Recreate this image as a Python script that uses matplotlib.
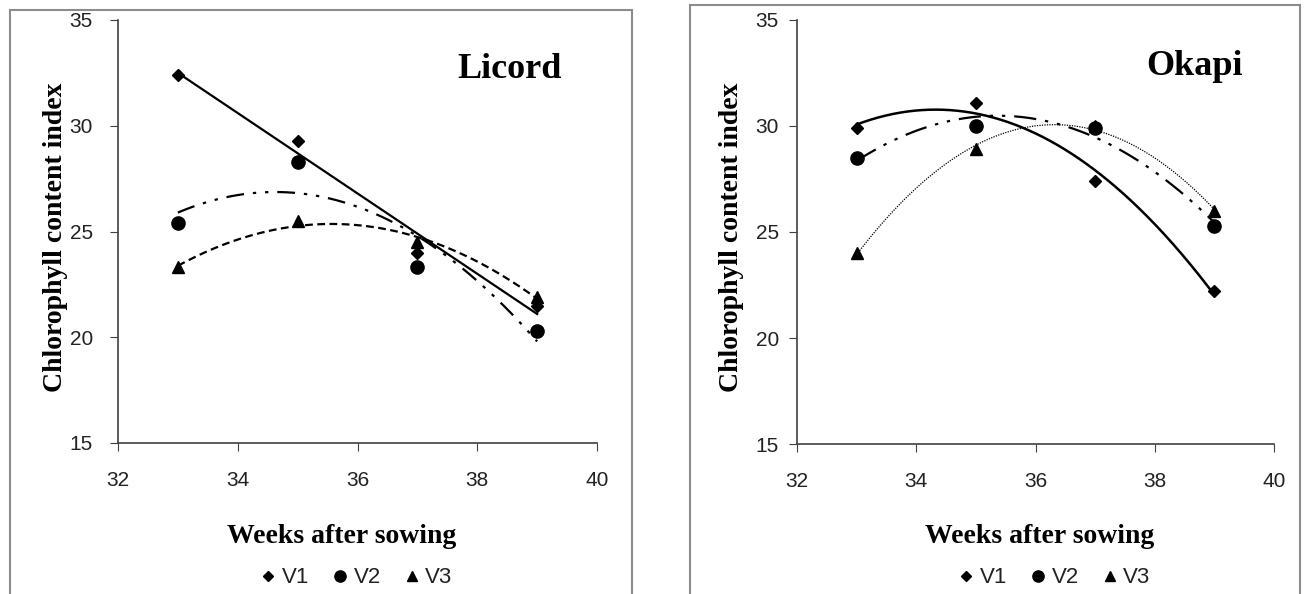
import numpy as np
import matplotlib
matplotlib.use('Agg')
import matplotlib.pyplot as plt
from matplotlib.patches import Rectangle
from matplotlib.lines import Line2D

# Data
weeks = [33, 35, 37, 39]
licord_v1 = [32.4, 29.3, 24.0, 21.5]
licord_v2 = [25.4, 28.3, 23.3, 20.3]
licord_v3 = [23.3, 25.5, 24.5, 21.9]
okapi_v1 = [29.9, 31.1, 27.4, 22.2]
okapi_v2 = [28.5, 30.0, 29.9, 25.3]
okapi_v3 = [24.0, 28.9, 30.0, 26.0]
series_names = ['V1', 'V2', 'V3']

serif = 'Liberation Serif'
sans = 'Liberation Sans'
plt.rcParams['font.family'] = serif

fig = plt.figure(figsize=(13.09, 5.94), dpi=100)

# gray frames around each chart
fig.patches.append(Rectangle((10/1309, -0.02), 622/1309, 1 - 10/594 + 0.02,
                             transform=fig.transFigure, fill=False,
                             edgecolor='#8c8c8c', lw=1.5))
fig.patches.append(Rectangle((690/1309, -0.02), 610/1309, 1 - 5/594 + 0.02,
                             transform=fig.transFigure, fill=False,
                             edgecolor='#8c8c8c', lw=1.5))

markers = ['D', 'o', '^']
msizes = [6.5, 9.5, 8]


def trend(ax, y, deg, style):
    xs = np.linspace(weeks[0], weeks[-1], 200)
    c = np.polyfit(weeks, y, deg)
    ax.plot(xs, np.polyval(c, xs), color='black', zorder=2, **style)


def panel(rect, title, title_xy, v1, v2, v3, styles, degs, ylab_x, xlab_x,
          ypad):
    ax = fig.add_axes(rect)
    for y, deg, st in zip([v1, v2, v3], degs, styles):
        trend(ax, y, deg, st)
    for y, m, s in zip([v1, v2, v3], markers, msizes):
        ax.plot(weeks, y, linestyle='none', marker=m, markersize=s,
                color='black', zorder=3, clip_on=False)
    ax.set_xlim(32, 40)
    ax.set_ylim(15, 35)
    ax.set_xticks([32, 34, 36, 38, 40])
    ax.set_yticks([15, 20, 25, 30, 35])
    for s in ['top', 'right']:
        ax.spines[s].set_visible(False)
    for s in ['left', 'bottom']:
        ax.spines[s].set_color('#404040')
        ax.spines[s].set_linewidth(1.2)
    ax.tick_params(axis='x', direction='out', length=6, pad=14,
                   labelsize=15, color='#404040', labelfontfamily=sans,
                   labelcolor='#222222')
    ax.tick_params(axis='y', direction='out', length=6, pad=ypad,
                   labelsize=15, color='#404040', labelfontfamily=sans,
                   labelcolor='#222222')
    ax.text(title_xy[0], title_xy[1], title, transform=ax.transAxes,
            ha='center', va='center', fontsize=26, fontweight='bold')
    fig.text(ylab_x, 1 - 237/594, 'Chlorophyll content index', rotation=90,
             ha='center', va='center', fontsize=20, fontweight='bold')
    fig.text(xlab_x, 0.096, 'Weeks after sowing', ha='center', va='center',
             fontsize=20, fontweight='bold')
    handles = [Line2D([], [], linestyle='none', marker=m, markersize=s * 0.85,
                      color='black') for m, s in zip(markers, msizes)]
    fig.legend(handles, series_names, loc='center',
               bbox_to_anchor=(xlab_x + 14/1309, 0.027), ncol=3, frameon=False,
               prop={'family': sans, 'size': 16}, handletextpad=0.2,
               columnspacing=1.0, handlelength=0.8,
               labelcolor='#222222')
    return ax


licord_styles = [
    dict(linestyle='-', lw=1.6),
    dict(linestyle=(0, (8, 4, 1.5, 4, 1.5, 4)), lw=1.6),
    dict(linestyle=(0, (3.5, 2)), lw=1.6),
]
okapi_styles = [
    dict(linestyle='-', lw=1.8),
    dict(linestyle=(0, (10, 4, 1.5, 4, 1.5, 4)), lw=1.6),
    dict(linestyle=(0, (1, 1)), lw=0.9),
]

panel([118/1309, 1 - 443/594, 479/1309, 423/594], 'Licord', (0.818, 0.884),
      licord_v1, licord_v2, licord_v3, licord_styles, [1, 2, 2],
      55/1309, 342/1309, 12)
panel([797/1309, 1 - 444/594, 477/1309, 424/594], 'Okapi', (0.834, 0.891),
      okapi_v1, okapi_v2, okapi_v3, okapi_styles, [2, 2, 2],
      731/1309, 1040/1309, 7)

fig.savefig('out.png', dpi=100)
